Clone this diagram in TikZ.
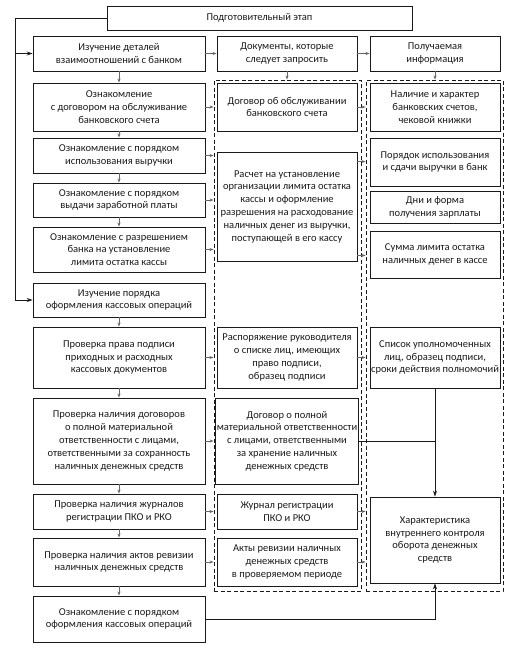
\documentclass[tikz,border=0pt]{standalone}
\usepackage{fontspec}
\setmainfont{Carlito}
\usetikzlibrary{arrows.meta,positioning}
\begin{document}
\begin{tikzpicture}[x=1pt,y=-1pt,
  box/.style={draw=black!90,line width=0.9pt,align=center,inner sep=1pt,
    font=\fontsize{10.5}{12.8}\selectfont,text=black!90},
  dbox/.style={draw=black!90,line width=0.9pt,dash pattern=on 4pt off 2.5pt},
  arr/.style={draw=black!90,line width=0.8pt,-{Stealth[length=6pt,width=4pt]}},
  sarr/.style={draw=black!60,line width=0.8pt,-{Stealth[length=4pt,width=3pt]}},
  ln/.style={draw=black!90,line width=0.8pt}]
\useasboundingbox (0,0) rectangle (510,648);
% helper macro for boxes by corners
\newcommand{\mybox}[6]{\node[box,minimum width={#3-#2},minimum height={#5-#4}] (#1) at ({(#2+#3)/2},{(#4+#5)/2}) {#6};}
% top
\mybox{T}{107}{412}{6}{30}{Подготовительный этап}
% column 1
\mybox{A1}{33}{205}{36}{71}{Изучение деталей\\взаимоотношений с банком}
\mybox{A2}{33}{205}{83}{131}{Ознакомление\\с договором на обслуживание\\банковского счета}
\mybox{A3}{33}{205}{138}{173}{Ознакомление с порядком\\использования выручки}
\mybox{A4}{33}{205}{183}{217}{Ознакомление с порядком\\выдачи заработной платы}
\mybox{A5}{33}{205}{227}{272}{Ознакомление с разрешением\\банка на установление\\лимита остатка кассы}
\mybox{A6}{33}{205}{283}{317}{Изучение порядка\\оформления кассовых операций}
\mybox{A7}{33}{205}{327}{388}{Проверка права подписи\\приходных и расходных\\кассовых документов}
\mybox{A8}{33}{205}{398}{484}{Проверка наличия договоров\\о полной материальной\\ответственности с лицами,\\ответственными за сохранность\\наличных денежных средств}
\mybox{A9}{33}{205}{494}{529}{Проверка наличия журналов\\регистрации ПКО и РКО}
\mybox{A10}{33}{205}{538}{586}{Проверка наличия актов ревизии\\наличных денежных средств}
\mybox{A11}{33}{205}{596}{642}{Ознакомление с порядком\\оформления кассовых операций}
% column 2
\mybox{B1}{217}{357}{36}{71}{Документы, которые\\следует запросить}
\mybox{B2}{217}{357}{83}{131}{Договор об обслуживании\\банковского счета}
\mybox{B3}{217}{357}{152}{261}{Расчет на установление\\организации лимита остатка\\кассы и оформление\\разрешения на расходование\\наличных денег из выручки,\\поступающей в его кассу}
\mybox{B4}{217}{357}{327}{388}{Распоряжение руководителя\\о списке лиц, имеющих\\право подписи,\\образец подписи}
\mybox{B5}{217}{357}{398}{484}{Договор о полной\\материальной ответственности\\с лицами, ответственными\\за хранение наличных\\денежных средств}
\mybox{B6}{217}{357}{494}{529}{Журнал регистрации\\ПКО и РКО}
\mybox{B7}{217}{357}{538}{586}{Акты ревизии наличных\\денежных средств\\в проверяемом периоде}
% column 3
\mybox{C1}{370}{500}{36}{71}{Получаемая\\информация}
\mybox{C2}{370}{500}{83}{131}{Наличие и характер\\банковских счетов,\\чековой книжки}
\mybox{C3}{370}{500}{138}{186}{Порядок использования\\и сдачи выручки в банк}
\mybox{C4}{370}{500}{191}{223}{Дни и форма\\получения зарплаты}
\mybox{C5}{370}{500}{231}{278}{Сумма лимита остатка\\наличных денег в кассе}
\mybox{C6}{370}{500}{327}{388}{Список уполномоченных\\лиц, образец подписи,\\сроки действия полномочий}
\mybox{C7}{370}{500}{497}{583}{Характеристика\\внутреннего контроля\\оборота денежных\\средств}
% dashed groups
\node[dbox,minimum width=147,minimum height=511,inner sep=0pt] (D2) at (287.5,335.5) {};
\node[dbox,minimum width=137,minimum height=511,inner sep=0pt] (D3) at (434.5,335.5) {};
% loop
\coordinate (L) at (15,18);
\draw[ln] (T.west) -- (L) -- (L |- A6.west);
\draw[arr] (L |- A1.west) -- (A1.west);
\draw[arr] (L |- A6.west) -- (A6.west);
% header arrows
\draw[sarr] (A1.east) -- (B1.west);
\draw[sarr] (B1.east) -- (C1.west);
\draw[sarr] (A1.south) -- (A2.north);
\draw[sarr] (B1.south) -- (B1.south |- D2.north);
\draw[sarr] (C1.south) -- (C1.south |- D3.north);
% left column chain
\draw[sarr] (A2.south) -- (A3.north);
\draw[sarr] (A3.south) -- (A4.north);
\draw[sarr] (A4.south) -- (A5.north);
\draw[sarr] (A6.south) -- (A7.north);
\draw[sarr] (A7.south) -- (A8.north);
\draw[sarr] (A8.south) -- (A9.north);
\draw[sarr] (A9.south) -- (A10.north);
\draw[sarr] (A10.south) -- (A11.north);
% to dashed group 2
\draw[sarr] (A2.east) -- (A2.east -| D2.west);
\draw[sarr] (A3.east) -- (A3.east -| D2.west);
\draw[sarr] (A4.east) -- (A4.east -| D2.west);
\draw[sarr] (A5.east) -- (A5.east -| D2.west);
\draw[sarr] (A7.east) -- (A7.east -| D2.west);
\draw[sarr] (A8.east) -- (A8.east -| D2.west);
\draw[sarr] (A9.east) -- (A9.east -| D2.west);
\draw[sarr] (A10.east) -- (A10.east -| D2.west);
% to dashed group 3
\draw[sarr] (B2.east) -- (B2.east -| D3.west);
\draw[sarr] ([yshift=-10pt]B3.north east) -- ([yshift=-10pt]B3.north east -| D3.west);
\draw[sarr] ([yshift=6pt]B3.south east) -- ([yshift=6pt]B3.south east -| D3.west);
\draw[sarr] (B4.east) -- (B4.east -| D3.west);
\draw[sarr] (B6.east) -- (B6.east -| D3.west);
\draw[sarr] (B7.east) -- (B7.east -| D3.west);
% to C7
\draw[arr] (C6.south) -- (C7.north);
\draw[ln] (B5.east) -- (B5.east -| C6.south);
\draw[arr] (A11.east) -| (C7.south);
\end{tikzpicture}
\end{document}
